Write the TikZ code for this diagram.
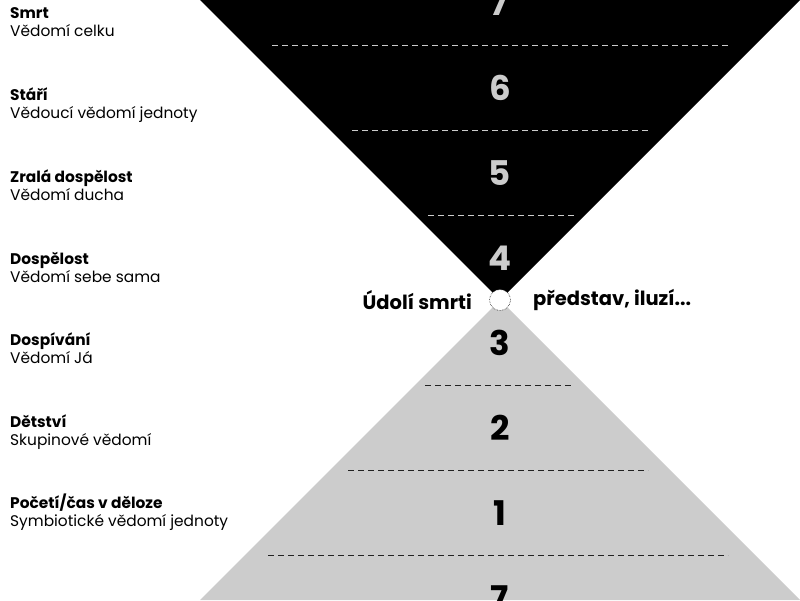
\documentclass[tikz,border=0pt]{standalone}
\usepackage{fontspec}
\setmainfont{Poppins}
\definecolor{lgrey}{HTML}{CCCCCC}
\definecolor{dgrey}{HTML}{222222}
\tikzset{
  title/.style={anchor=base west,inner sep=0pt,font=\fontsize{15.4}{18}\selectfont\bfseries},
  sub/.style={anchor=base west,inner sep=0pt,font=\fontsize{15.4}{18}\selectfont},
  num/.style={inner sep=0pt,font=\fontsize{34}{36}\selectfont\bfseries},
  side/.style={inner sep=0pt,font=\fontsize{19.5}{22}\selectfont\bfseries},
  divw/.style={lgrey,line width=1pt,dash pattern=on 6pt off 4pt},
  divb/.style={dgrey,line width=1pt,dash pattern=on 6pt off 4pt},
}
\begin{document}
\begin{tikzpicture}[x=1pt,y=-1pt]
\useasboundingbox (0,0) rectangle (800,600);
\clip (0,0) rectangle (800,600);
% triangles
\fill[black] (200,0) -- (800,0) -- (500,300) -- cycle;
\fill[lgrey] (200,600) -- (800,600) -- (500,300) -- cycle;
% dividers
\coordinate (a1) at (272,45); \coordinate (b1) at (730,45);
\coordinate (a2) at (352,130); \coordinate (b2) at (650,130);
\coordinate (a3) at (428,215); \coordinate (b3) at (575,215);
\coordinate (a4) at (425,385); \coordinate (b4) at (572,385);
\coordinate (a5) at (348,470); \coordinate (b5) at (648,470);
\coordinate (a6) at (268,555); \coordinate (b6) at (728,555);
\draw[divw] (a1) -- (b1);
\draw[divw] (a2) -- (b2);
\draw[divw] (a3) -- (b3);
\draw[divb] (a4) -- (b4);
\draw[divb] (a5) -- (b5);
\draw[divb] (a6) -- (b6);
% numbers
\node[num,lgrey] (n7t) at (500,3) {7};
\node[num,lgrey] (n6) at (500,88) {6};
\node[num,lgrey] (n5) at (500,173) {5};
\node[num,lgrey] (n4) at (500,258) {4};
\node[num,black] (n3) at (500,343) {3};
\node[num,black] (n2) at (500,428) {2};
\node[num,black] (n1) at (500,513) {1};
\node[num,black] (n7b) at (500,598) {7};
% center circle
\node[circle,minimum size=21pt,inner sep=0pt,fill=white,draw=dgrey,densely dotted,line width=0.6pt] (c) at (500,300) {};
\node[side,anchor=east] (l) at (472,300) {Údolí smrti};
\node[side,anchor=west] (r) at (533,300) {představ, iluzí...};
% left labels
\node[title] (t1) at (10,18) {Smrt};
\node[sub] (s1) at (10,36) {Vědomí celku};
\node[title] (t2) at (10,100) {Stáří};
\node[sub] (s2) at (10,118) {Vědoucí vědomí jednoty};
\node[title] (t3) at (10,182) {Zralá dospělost};
\node[sub] (s3) at (10,200) {Vědomí ducha};
\node[title] (t4) at (10,264) {Dospělost};
\node[sub] (s4) at (10,282) {Vědomí sebe sama};
\node[title] (t5) at (10,345) {Dospívání};
\node[sub] (s5) at (10,363) {Vědomí Já};
\node[title] (t6) at (10,427) {Dětství};
\node[sub] (s6) at (10,445) {Skupinové vědomí};
\node[title] (t7) at (10,508) {Početí/čas v děloze};
\node[sub] (s7) at (10,526) {Symbiotické vědomí jednoty};
\end{tikzpicture}
\end{document}
